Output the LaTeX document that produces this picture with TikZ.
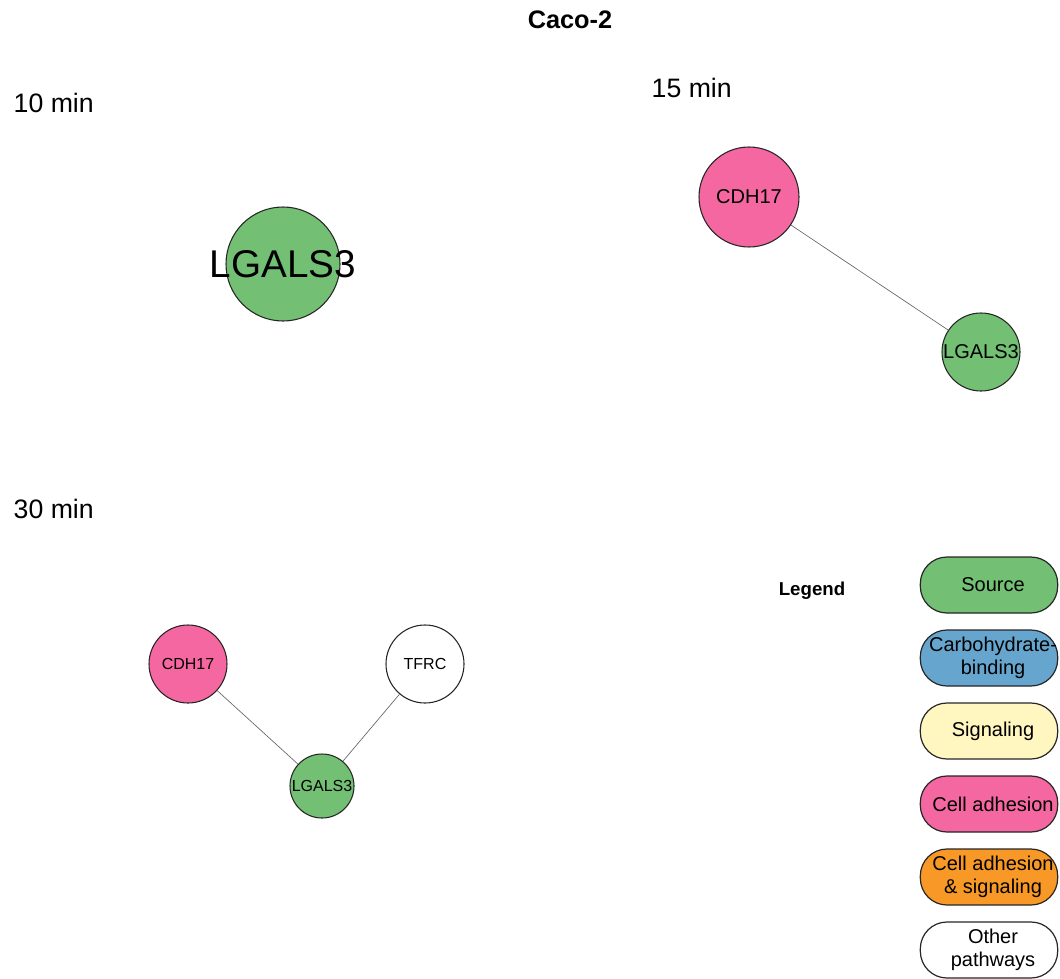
\documentclass[tikz,border=0pt]{standalone}
\usepackage{fontspec}
\setmainfont{Liberation Sans}
\begin{document}
\begin{tikzpicture}[x=0.75pt,y=-0.75pt,
  gene/.style={circle,draw=black!85,line width=0.8pt,inner sep=0pt,font=\fontsize{15}{18}\selectfont},
  link/.style={draw=black!60,line width=0.5pt},
  panel/.style={anchor=west,font=\fontsize{20}{24}\selectfont},
  key/.style={draw=black!85,line width=0.9pt,rounded corners=20pt,minimum width=103pt,minimum height=42pt,
    inner sep=0pt},
  keytext/.style={align=center,font=\fontsize{15}{17.5}\selectfont},
  src/.style={fill={rgb,255:red,115;green,192;blue,116}},
  carb/.style={fill={rgb,255:red,102;green,166;blue,206}},
  sig/.style={fill={rgb,255:red,255;green,246;blue,192}},
  adh/.style={fill={rgb,255:red,245;green,103;blue,160}},
  adhsig/.style={fill={rgb,255:red,248;green,152;blue,38}},
  oth/.style={fill=white}]
\useasboundingbox (0,0) rectangle (1060,978);

% title
\node[font=\bfseries\fontsize{19}{22}\selectfont] (title) at (570,20) {Caco-2};

% 10 min
\node[panel] (t10) at (9,103) {10 min};
\node[gene,src,minimum size=85.5pt,
  label={[font=\fontsize{29}{34}\selectfont]center:LGALS3}] (a1) at (283,264) {};

% 15 min
\node[panel] (t15) at (647,88) {15 min};
\node[gene,adh,minimum size=75pt] (b1) at (749,197) {CDH17};
\node[gene,src,minimum size=58.5pt] (b2) at (981,352) {LGALS3};
\draw[link] (b1) -- (b2);

% 30 min
\node[panel] (t30) at (9,509) {30 min};
\node[gene,adh,minimum size=58.5pt,font=\fontsize{12}{14}\selectfont] (c1) at (188,664) {CDH17};
\node[gene,oth,minimum size=58.5pt,font=\fontsize{12}{14}\selectfont] (c2) at (425,664) {TFRC};
\node[gene,src,minimum size=48pt,font=\fontsize{12}{14}\selectfont] (c3) at (322,786) {LGALS3};
\draw[link] (c1) -- (c3);
\draw[link] (c2) -- (c3);

% legend boxes, with their captions set a little right of centre
\node[font=\bfseries\fontsize{14}{17}\selectfont] (lg) at (812,591) {Legend};
\node[key,src] (k1) at (989,585) {};
\node[key,carb] (k2) at (989,658) {};
\node[key,sig] (k3) at (989,731) {};
\node[key,adh] (k4) at (989,804) {};
\node[key,adhsig] (k5) at (989,877) {};
\node[key,oth] (k6) at (989,950) {};
\node[keytext] (l1) at ([xshift=3pt]k1.center) {Source};
\node[keytext] (l2) at ([xshift=3pt]k2.center) {Carbohydrate-\\binding};
\node[keytext] (l3) at ([xshift=3pt]k3.center) {Signaling};
\node[keytext] (l4) at ([xshift=3pt]k4.center) {Cell adhesion};
\node[keytext] (l5) at ([xshift=3pt]k5.center) {Cell adhesion\\\& signaling};
\node[keytext] (l6) at ([xshift=3pt]k6.center) {Other\\pathways};
\end{tikzpicture}
\end{document}
